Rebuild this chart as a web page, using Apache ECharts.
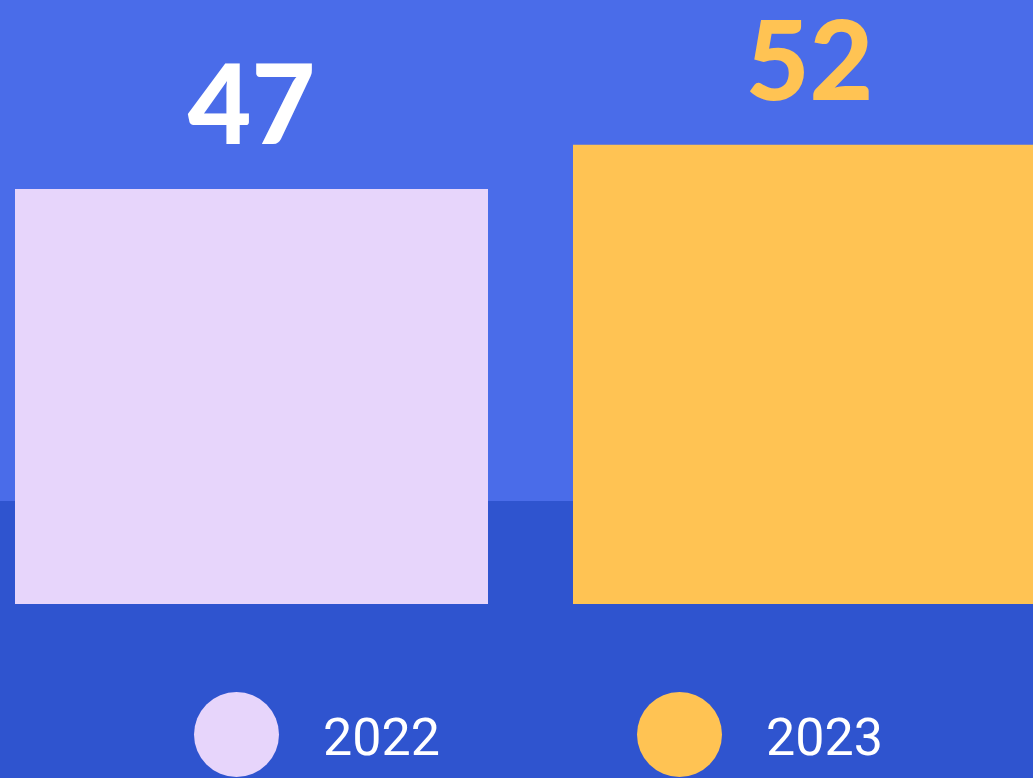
<!DOCTYPE html>
<html>
<head>
<meta charset="utf-8">
<script src="https://cdn.jsdelivr.net/npm/echarts@6/dist/echarts.min.js"></script>
<style>
  html, body { margin: 0; padding: 0; }
  #chart { width: 1033px; height: 778px; }
</style>
</head>
<body>
<div id="chart"></div>
<script>
const categories = ['2022', '2023'];
const values = [47, 52];
const barColors = ['#E7D5FB', '#FFC353'];
const labelColors = ['#FFFFFF', '#FFC353'];

const chart = echarts.init(document.getElementById('chart'));

// one series per year so each gets its own legend entry
const series = categories.map((name, i) => ({
  name: name,
  type: 'bar',
  barWidth: 473,
  barGap: '-100%',
  data: categories.map((c, j) => (j === i ? values[i] : null)),
  itemStyle: { color: barColors[i] },
  label: {
    show: true,
    position: 'top',
    distance: 25,
    color: labelColors[i],
    fontSize: 110,
    fontWeight: 900,
    fontFamily: 'Lato'
  }
}));

const legendBase = {
  top: 687,
  icon: 'circle',
  itemWidth: 85,
  itemHeight: 85,
  selectedMode: false,
  formatter: '{t|{name}}',
  textStyle: {
    color: '#FFFFFF',
    fontSize: 52,
    fontFamily: 'Roboto',
    rich: {
      t: {
        color: '#FFFFFF',
        fontSize: 52,
        fontFamily: 'Roboto',
        padding: [14, 0, 0, 39]
      }
    }
  }
};

const option = {
  backgroundColor: '#4A6CE9',
  graphic: [{
    type: 'rect',
    z: 0,
    shape: { x: 0, y: 501, width: 1033, height: 277 },
    style: { fill: '#2F54CF' }
  }],
  legend: [
    Object.assign({}, legendBase, { left: 189, data: [categories[0]] }),
    Object.assign({}, legendBase, { left: 632, data: [categories[1]] })
  ],
  // grid sticks out of the canvas on both sides
  grid: { left: -27.5, right: -55.5, top: 74.2, bottom: 174, outerBoundsMode: 'none' },
  xAxis: { type: 'category', data: categories, show: false },
  yAxis: { type: 'value', min: 0, max: 60, show: false },
  series: series
};

chart.setOption(option);
</script>
</body>
</html>
